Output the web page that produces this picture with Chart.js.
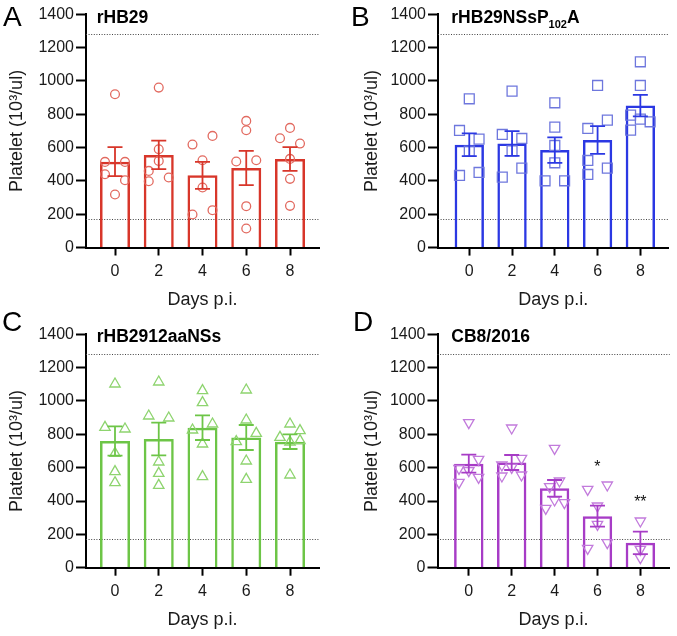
<!DOCTYPE html>
<html><head><meta charset="utf-8">
<script src="https://cdn.jsdelivr.net/npm/chart.js@4.4.1/dist/chart.umd.min.js"></script>
<style>
html,body{margin:0;padding:0;background:#fff;}
#wrap{position:relative;width:677px;height:636px;overflow:hidden;background:#fff;}
canvas{position:absolute;}
</style></head><body><div id="wrap">
<canvas id="cA"></canvas><canvas id="cB"></canvas><canvas id="cC"></canvas><canvas id="cD"></canvas>
</div>
<script>
// ---------- data ----------
const days = [0, 2, 4, 6, 8];
const panelLetters = ['A', 'B', 'C', 'D'];
const panelTitles = ['rHB29', 'rHB29NSsP_{102}A', 'rHB2912aaNSs', 'CB8/2016'];
const yAxisTitle = 'Platelet (10³/ul)';
const xAxisTitle = 'Days p.i.';
const yMin = 0, yMax = 1400, yStep = 200;
const normalRange = [171, 1283];

const meanA = [515, 556, 433, 477, 531];
const semA = [87, 86, 81, 103, 71];
const pointsA = [
  [920, 514, 514, 440, 404, 318],
  [960, 590, 520, 460, 398, 420],
  [618, 670, 524, 360, 198, 224],
  [760, 704, 516, 524, 248, 114],
  [718, 656, 624, 532, 412, 250]
];

const meanB = [617, 625, 585, 646, 852];
const semB = [68, 74, 76, 83, 65];
const pointsB = [
  [893, 703, 651, 579, 433, 451],
  [939, 679, 655, 581, 423, 477],
  [869, 723, 613, 509, 401, 401],
  [973, 765, 715, 523, 439, 477],
  [1115, 973, 795, 705, 771, 755]
];

const meanC = [760, 772, 840, 781, 756];
const semC = [88, 98, 74, 75, 44];
const pointsC = [
  [1102, 842, 832, 686, 576, 510],
  [1114, 910, 898, 634, 566, 494],
  [1062, 990, 862, 826, 742, 546],
  [1066, 886, 806, 756, 640, 530],
  [862, 822, 782, 754, 762, 556]
];

const meanD = [624, 631, 476, 309, 149];
const semD = [54, 45, 50, 63, 67];
const pointsD = [
  [870, 650, 596, 582, 542, 512],
  [838, 656, 616, 602, 550, 556],
  [716, 520, 486, 406, 390, 356],
  [470, 496, 370, 260, 150, 116],
  [280, 110, 60]
];
const sigLabelsD = ['', '', '', '*', '**'];
const sigValuesD = [null, null, null, 626, 420];

// ---------- layout / style (not data) ----------
const jitterStep = 0.457;
const jitterA = [[0,-1,1,-1,1,0],[0,0,0,-1,-1,1],[-1,1,0,0,-1,1],[0,0,-1,1,0,0],[0,-1,1,0,0,0]];
const jitterB = [[0,-1,1,0,-1,1],[0,-1,1,0,-1,1],[0,0,0,0,-1,1],[0,1,-1,-1,-1,1],[0,0,-1,-1,0,1]];
const jitterC = [[0,-1,1,0,0,0],[0,-1,1,0,0,0],[0,0,1,-1,0,0],[0,0,1,-1,0,0],[0,1,-1,0,1,0]];
const jitterD = [[0,1,-1,0,1,-1],[0,1,-1,0,-1,1],[0,0.5,-0.5,0,1,-0.9],[-1,1,0,0,1,-1],[0,0,0]];

const FONT = "'Liberation Sans', Arial, Helvetica, sans-serif";
Chart.defaults.font.family = FONT;
Chart.defaults.color = '#1a1a1a';

const panels = [
  {id:'cA', left:0, top:0, w:338, h:318, area:{l:86, r:319, t:14.3, b:247.5}, yTitleX:17.5, xTitleY:300,
   letter:{x:3, y:26}, title:{x:96.7, y:23.3}, firstOff:29, lastOff:29,
   mean:meanA, sem:semA, points:pointsA, jitter:jitterA, color:'#D8362A', ptColor:'#E26A60', marker:'circle', rot:0, r:4.4},
  {id:'cB', left:338, top:0, w:339, h:318, area:{l:438, r:674, t:14.3, b:247.6}, yTitleX:372, xTitleY:300,
   letter:{x:351, y:26}, title:{x:451.3, y:23.3}, firstOff:32, lastOff:29,
   mean:meanB, sem:semB, points:pointsB, jitter:jitterB, color:'#2B38E3', ptColor:'#6E77DD', marker:'rect', rot:0, r:7},
  {id:'cC', left:0, top:300, w:338, h:336, area:{l:86, r:319, t:334.3, b:567.7}, yTitleX:17.5, xTitleY:620,
   letter:{x:2, y:330.7}, title:{x:96.7, y:341.7}, firstOff:29, lastOff:29,
   mean:meanC, sem:semC, points:pointsC, jitter:jitterC, color:'#6DC547', ptColor:'#8ED46F', marker:'triangle', rot:0, r:6},
  {id:'cD', left:338, top:300, w:339, h:336, area:{l:437.5, r:675, t:334.3, b:567.7}, yTitleX:372, xTitleY:620,
   letter:{x:353, y:330.7}, title:{x:451.3, y:341.5}, firstOff:32, lastOff:30,
   mean:meanD, sem:semD, points:pointsD, jitter:jitterD, color:'#A73CC6', ptColor:'#C27BDC', marker:'triangle', rot:180, r:6,
   sigLabels:sigLabelsD, sigValues:sigValuesD}
];

function makeChart(p, idx) {
  const canvas = document.getElementById(p.id);
  canvas.width = p.w; canvas.height = p.h;
  canvas.style.left = p.left + 'px'; canvas.style.top = p.top + 'px';
  const a = {l: p.area.l - p.left, r: p.area.r - p.left, t: p.area.t - p.top, b: p.area.b - p.top};
  const firstX = a.l + p.firstOff;
  const lastX = a.r - p.lastOff;
  const pxPerUnit = (lastX - firstX) / (days[days.length-1] - days[0]);
  const xMin = days[0] - (firstX - a.l) / pxPerUnit;
  const xMax = days[days.length-1] + (a.r - lastX) / pxPerUnit;

  const barData = days.map((d, i) => ({x: d, y: p.mean[i]}));
  const ptData = [];
  p.points.forEach((arr, i) => arr.forEach((v, j) => ptData.push({x: days[i] + p.jitter[i][j] * jitterStep, y: v})));

  const lineH = 18 * 1.2;
  const decor = {
    id: 'decor' + idx,
    beforeDatasetsDraw(chart) {
      const {ctx, chartArea, scales: {y}} = chart;
      ctx.save();
      ctx.strokeStyle = '#444'; ctx.lineWidth = 1; ctx.setLineDash([1, 1.6]);
      normalRange.forEach(v => {
        const py = Math.round(y.getPixelForValue(v)) + 0.5;
        ctx.beginPath(); ctx.moveTo(chartArea.left, py); ctx.lineTo(chartArea.right, py); ctx.stroke();
      });
      ctx.restore();
    },
    afterDatasetsDraw(chart) {
      const {ctx, scales: {x, y}} = chart;
      ctx.save();
      ctx.strokeStyle = p.color; ctx.lineWidth = 1.8; ctx.setLineDash([]);
      const cap = 7.5;
      days.forEach((d, i) => {
        const px = x.getPixelForValue(d);
        const yt = y.getPixelForValue(p.mean[i] + p.sem[i]);
        const yb = y.getPixelForValue(p.mean[i] - p.sem[i]);
        ctx.beginPath();
        ctx.moveTo(px, yt); ctx.lineTo(px, yb);
        ctx.moveTo(px - cap, yt); ctx.lineTo(px + cap, yt);
        ctx.moveTo(px - cap, yb); ctx.lineTo(px + cap, yb);
        ctx.stroke();
      });
      if (p.sigLabels) {
        ctx.fillStyle = '#111'; ctx.font = '16px ' + FONT; ctx.textAlign = 'center'; ctx.textBaseline = 'alphabetic';
        p.sigLabels.forEach((s, i) => {
          if (!s) return;
          ctx.fillText(s, x.getPixelForValue(days[i]), y.getPixelForValue(p.sigValues[i]) + 9);
        });
      }
      ctx.restore();
    },
    afterDraw(chart) {
      const ctx = chart.ctx;
      ctx.save();
      ctx.fillStyle = '#000'; ctx.textBaseline = 'alphabetic'; ctx.textAlign = 'left';
      ctx.font = '28px ' + FONT;
      ctx.fillText(panelLetters[idx], p.letter.x - p.left, p.letter.y - p.top);
      const parts = panelTitles[idx].split(/(_\{[^}]*\})/).filter(s => s.length);
      let tx = p.title.x - p.left; const ty = p.title.y - p.top;
      parts.forEach(s => {
        if (s.startsWith('_{')) {
          const t = s.slice(2, -1);
          ctx.font = 'bold 11px ' + FONT;
          ctx.fillText(t, tx, ty + 5);
          tx += ctx.measureText(t).width;
        } else {
          ctx.font = 'bold 17.5px ' + FONT;
          ctx.fillText(s, tx, ty);
          tx += ctx.measureText(s).width;
        }
      });
      ctx.restore();
    }
  };

  new Chart(canvas, {
    type: 'bar',
    data: {
      datasets: [
        {type: 'bar', data: barData, backgroundColor: 'rgba(255,255,255,0)', borderColor: p.color,
         borderWidth: 2.5, order: 2, categoryPercentage: 1, barPercentage: 0.686},
        {type: 'scatter', data: ptData, pointStyle: p.marker, pointRotation: p.rot, pointRadius: p.r,
         pointHoverRadius: p.r, borderColor: p.ptColor, backgroundColor: 'rgba(0,0,0,0)',
         pointBorderWidth: 1.3, borderWidth: 1.3, order: 1, showLine: false}
      ]
    },
    options: {
      responsive: false, animation: false, devicePixelRatio: 1,
      layout: {padding: {left: 0, top: a.t, right: p.w - a.r, bottom: 0}},
      plugins: {legend: {display: false}, tooltip: {enabled: false}},
      scales: {
        x: {
          type: 'linear', min: xMin, max: xMax, offset: false,
          afterBuildTicks: s => { s.ticks = days.map(v => ({value: v})); },
          afterFit: s => { s.height = p.h - a.b; },
          grid: {display: true, drawOnChartArea: false, drawTicks: true, tickLength: 8, tickWidth: 2, tickColor: '#000', offset: false},
          border: {display: true, color: '#000', width: 2},
          ticks: {font: {size: 16}, color: '#1a1a1a', padding: 6, callback: v => String(v), maxRotation: 0},
          title: {display: true, text: xAxisTitle, font: {size: 18}, color: '#1a1a1a',
                  padding: {top: 0, bottom: (p.h) - (p.xTitleY - p.top) - lineH / 2}}
        },
        y: {
          min: yMin, max: yMax,
          afterFit: s => { s.width = a.l; },
          grid: {display: true, drawOnChartArea: false, drawTicks: true, tickLength: 10, tickWidth: 2, tickColor: '#000'},
          border: {display: true, color: '#000', width: 2},
          ticks: {stepSize: yStep, font: {size: 16}, color: '#1a1a1a', padding: 2, callback: v => String(v)},
          title: {display: true, text: yAxisTitle, font: {size: 18}, color: '#1a1a1a',
                  padding: {top: (p.yTitleX - p.left) - lineH / 2, bottom: 0}}
        }
      }
    },
    plugins: [decor]
  });
}
panels.forEach(makeChart);
</script>
</body></html>
